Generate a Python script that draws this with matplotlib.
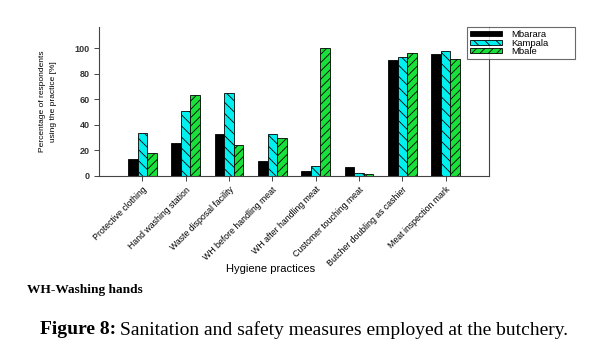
import matplotlib
matplotlib.use("Agg")
import matplotlib.pyplot as plt
import numpy as np

plt.rcParams['font.family'] = ['Liberation Sans', 'DejaVu Sans']
plt.rcParams['hatch.linewidth'] = 0.6

practices = [
    "Protective clothing",
    "Hand washing station",
    "Waste disposal facility",
    "WH before handling meat",
    "WH after handling meat",
    "Customer touching meat",
    "Butcher doubling as cashier",
    "Meat inspection mark",
]
mbarara = [13, 26, 33, 12, 4, 7, 91, 95.5]
kampala = [34, 51, 65, 32.5, 8, 2.5, 93, 97.5]
mbale = [18, 63.5, 24, 29.5, 100, 1.3, 96.5, 91.5]
yticks = [0, 20, 40, 60, 80, 100]

series = [
    ("Mbarara", mbarara, "black", ""),
    ("Kampala", kampala, "#00f0f0", "\\\\\\"),
    ("Mbale", mbale, "#19e03a", "////"),
]

fig = plt.figure(figsize=(6.04, 3.45), dpi=100)
ax = fig.add_axes([0.1639, 0.4899, 0.6457, 0.4319])

x = np.arange(len(practices))
w = 0.22
for k, (name, vals, color, hatch) in enumerate(series):
    ax.bar(x + (k - 1) * w, vals, width=w, color=color, edgecolor="black",
           linewidth=0.6, hatch=hatch, label=name)

ax.set_xlim(-1, 8)
ax.set_ylim(0, 116.7)
ax.set_yticks(yticks)
ax.set_yticklabels([str(v) for v in yticks], fontsize=6.5, fontweight="bold",
                   color="#333333")
ax.set_xticks(x)
ax.set_xticklabels(practices, rotation=45, ha="right", va="top",
                   rotation_mode="anchor", fontsize=6.3)
ax.tick_params(axis="both", direction="out", length=3.5, width=0.7, pad=3,
               color="#444444")
ax.spines["top"].set_visible(False)
for s in ("left", "right", "bottom"):
    ax.spines[s].set_linewidth(0.8)
    ax.spines[s].set_color("#444444")

ax.set_ylabel("Percentage of respondents\nusing the practice [%]", fontsize=6,
              linespacing=1.7)
ax.yaxis.set_label_coords(-0.108, 0.5)
ax.set_xlabel("Hygiene practices", fontsize=8)
ax.xaxis.set_label_coords(0.44, -0.59)

# legend box spans past the right spine, stretched to a fixed width
leg = ax.legend(loc="upper left", bbox_to_anchor=(0.9436, 0.0, 0.277, 1.0),
                mode="expand", fontsize=6.8, frameon=True, fancybox=False,
                handlelength=3.4, handleheight=0.45, handletextpad=0.9,
                borderpad=0.35, labelspacing=-0.08, borderaxespad=0)
leg.get_frame().set_edgecolor("#444444")
leg.get_frame().set_linewidth(0.8)

fig.text(27 / 604, 1 - 290 / 345, "WH-Washing hands", fontsize=9.6,
         fontweight="bold", family="Liberation Serif", va="center", ha="left")

fig.canvas.draw()
renderer = fig.canvas.get_renderer()
t1 = fig.text(40 / 604, 1 - 330 / 345, "Figure 8:", fontsize=14,
              fontweight="bold", family="Liberation Serif", va="center", ha="left")
bb = t1.get_window_extent(renderer=renderer)
fig.text((bb.x1 + 4) / 604, 1 - 330 / 345,
         "Sanitation and safety measures employed at the butchery.",
         fontsize=14, family="Liberation Serif", va="center", ha="left")

fig.savefig("out.png", dpi=100)
